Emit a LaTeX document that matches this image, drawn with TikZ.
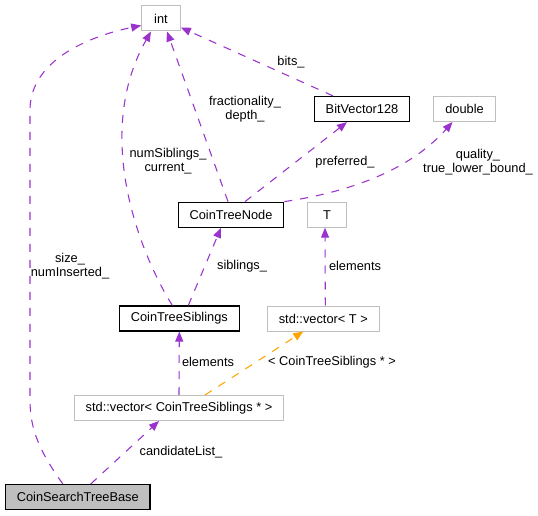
\documentclass[tikz,border=0pt]{standalone}
\usepackage{fontspec}
\setmainfont{Liberation Sans}
\usetikzlibrary{arrows.meta,calc}

\definecolor{usecol}{HTML}{9A32CD}
\definecolor{tplcol}{HTML}{FFA500}
\definecolor{boxgrey}{HTML}{BFBFBF}

\begin{document}
\begin{tikzpicture}[x=0.75pt,y=-0.75pt,
  font=\fontsize{9.6}{10.3}\selectfont,
  cls/.style={draw=black, line width=0.9pt, minimum height=18.75pt, minimum width=29pt, inner xsep=8.5pt, inner ysep=0pt},
  ext/.style={cls, draw=boxgrey, line width=0.75pt},
  base/.style={cls, fill=boxgrey},
  uses/.style={draw=usecol, line width=0.8pt, dash pattern=on 6pt off 6pt, -{Triangle[length=7.5pt,width=6pt]}},
  tmpl/.style={uses, draw=tplcol},
  lbl/.style={align=center, inner sep=0pt}]
\useasboundingbox (0,0) rectangle (538,516);

%\draw[help lines] (0,0) grid[step=50] (538,516);

\node[ext] (int) at (161,18.5) {int};
\node[cls] (bv) at (362,109) {BitVector128};
\node[ext] (dbl) at (464.5,109) {double};
\node[cls] (ctn) at (231,214.7) {CoinTreeNode};
\node[ext] (tt) at (327,214.7) {T};
\node[cls] (cts) at (179.3,318.5) {CoinTreeSiblings};
\node[ext] (vect) at (323.3,318.5) {std::vector< T >};
\node[ext] (vecc) at (179,408) {std::vector< CoinTreeSiblings * >};
\node[base] (cstb) at (77.8,497) {CoinSearchTreeBase};

\draw[uses] ($(cstb.north)+(-15,0)$) .. controls (40,452) and (30,430) .. (30,400) -- (30,110) .. controls (30,60) and (90,36) .. ($(int.west)+(0,7)$);
\draw[uses] ($(cts.north)+(-7,0)$) .. controls (135,245) and (95,130) .. ($(int.south)+(-10,0)$);
\draw[uses] ($(ctn.north)+(-3,0)$) -- ($(int.south)+(6,0)$);
\draw[uses] ($(bv.north)+(-29,0)$) -- ($(int.east)+(0,9)$);
\draw[uses] ($(ctn.north)+(14,0)$) -- ($(bv.south)+(-15,0)$);
\draw[uses] (ctn.north east) .. controls (350,192) and (410,170) .. ($(dbl.south)+(-12,0)$);
\draw[uses] ($(cts.north)+(9,0)$) -- ($(ctn.south)+(-10,0)$);
\draw[uses] ($(vect.north)+(2,0)$) -- ($(tt.south)+(-2,0)$);
\draw[uses] (vecc.north) -- (cts.south);
\draw[tmpl] ($(vecc.north)+(26,0)$) -- ($(vect.south)+(-20,0)$);
\draw[uses] ($(cstb.north)+(13,0)$) -- ($(vecc.south)+(-20,0)$);

\node[lbl] (lsize) at (70,266) {size\_\\numInserted\_};
\node[lbl] (lnum) at (168,161.5) {numSiblings\_\\current\_};
\node[lbl] (lfrac) at (245,109) {fractionality\_\\depth\_};
\node[lbl] (lbits) at (291,62) {bits\_};
\node[lbl] (lpref) at (345,162) {preferred\_};
\node[lbl] (lqual) at (478,162) {quality\_\\true\_lower\_bound\_};
\node[lbl] (lsib) at (242,266) {siblings\_};
\node[lbl] (lelt) at (355,266) {elements};
\node[lbl] (lelc) at (208,362) {elements};
\node[lbl] (ltpl) at (332,362) {< CoinTreeSiblings * >};
\node[lbl] (lcand) at (181,452) {candidateList\_};

\end{tikzpicture}
\end{document}
